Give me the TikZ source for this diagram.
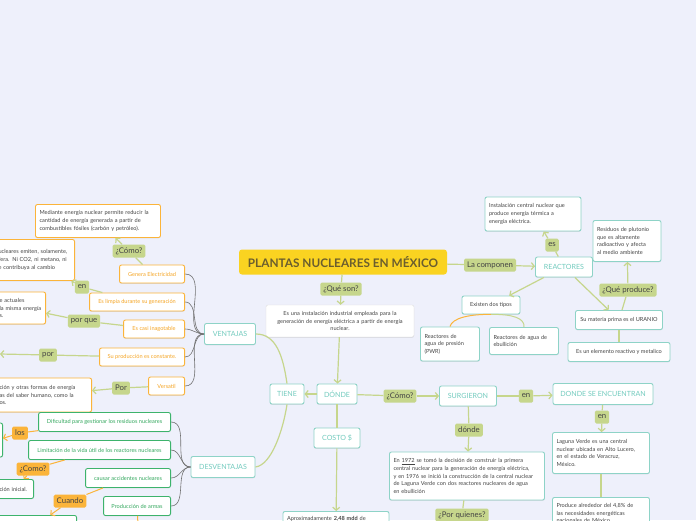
\documentclass[tikz,border=0pt]{standalone}
\usepackage{fontspec}
\setmainfont{Lato}
\usetikzlibrary{arrows.meta,shadows}

\definecolor{fondo}{HTML}{EEF0FB}
\definecolor{amarillo}{HTML}{FAD321}
\definecolor{marron}{HTML}{6B5E2E}
\definecolor{verdeclaro}{HTML}{C6D68C}
\definecolor{turquesa}{HTML}{8ED3C7}
\definecolor{turqtexto}{HTML}{72CBBE}
\definecolor{naranja}{HTML}{FBB43A}
\definecolor{naranjatexto}{HTML}{F5A524}
\definecolor{verde}{HTML}{3DB36C}
\definecolor{verdetexto}{HTML}{34A85E}
\definecolor{gris}{HTML}{707070}
\definecolor{texto}{HTML}{444444}

\tikzset{
	caja/.style={fill=white, rounded corners=2pt, line width=0.9pt, inner xsep=4pt, inner ysep=3pt,
		drop shadow={shadow xshift=0pt, shadow yshift=-0.8pt, opacity=0.2}},
	cabecera/.style={fill=amarillo, rounded corners=3pt, text=marron, minimum width=208, minimum height=25,
		font=\bfseries\fontsize{11.8}{13}\selectfont},
	tema/.style={caja, draw=turquesa, text=turqtexto, font=\fontsize{7.1}{8.5}\selectfont},
	nota/.style={caja, draw=turquesa, text=texto, align=left, font=\fontsize{5.6}{7.6}\selectfont},
	definicion/.style={caja, draw=gray!25, line width=0.4pt, text=texto, align=center, font=\fontsize{5.6}{7.6}\selectfont},
	notanar/.style={nota, draw=naranja},
	notaverde/.style={nota, draw=verde},
	pro/.style={caja, draw=naranja, text=naranjatexto, minimum height=18, font=\fontsize{5.6}{6.6}\selectfont},
	contra/.style={caja, draw=verde, text=verdetexto, minimum height=19, font=\fontsize{5.6}{6.6}\selectfont},
	etiqueta/.style={fill=verdeclaro, rounded corners=1.5pt, text=texto, inner xsep=3pt, inner ysep=1pt,
		minimum height=13, font=\fontsize{7.8}{9}\selectfont},
	etiquetanar/.style={etiqueta, fill=naranja},
	linea/.style={draw=verdeclaro, line width=1.2pt},
	flecha/.style={linea, -{Straight Barb[length=3pt,width=7pt]}},
	lineanar/.style={draw=naranja, line width=1pt},
	flechanar/.style={lineanar, -{Straight Barb[length=3pt,width=7pt]}},
	rama/.style={draw=gris, line width=0.6pt},
}

\begin{document}
\begin{tikzpicture}[x=1pt, y=-1pt]
	\useasboundingbox[fill=fondo] (0,0) rectangle (696,520);
	\clip (0,0) rectangle (696,520);

	\node[cabecera] (titulo) at (343,262) {PLANTAS NUCLEARES EN MÉXICO};
	\node[etiqueta] (queson) at (341,289) {¿Qué son?};
	\node[definicion, text width=140, minimum height=32] (definicion) at (340,321)
		{Es una instalación industrial empleada para la\\ generación de energía eléctrica a partir de energía\\ nuclear.};

	\node[tema, minimum width=40, minimum height=20] (donde) at (337,394) {DÓNDE};
	\node[tema, minimum width=34, minimum height=20] (tiene) at (287,394) {TIENE};
	\node[etiqueta] (como) at (400,396) {¿Cómo?};
	\node[tema, minimum width=57, minimum height=20] (surgieron) at (468,396) {SURGIERON};
	\node[etiqueta] (en) at (526,396) {en};
	\node[tema, minimum width=100, minimum height=21] (encuentran) at (603,394) {DONDE SE ENCUENTRAN};
	\node[etiqueta] (enb) at (602,417) {en};
	\node[nota, text width=89, minimum height=41] (laguna) at (601,453)
		{Laguna Verde es una central\\ nuclear ubicada en Alto Lucero,\\ en el estado de Veracruz,\\ México.};
	\node[nota, text width=89, inner ysep=6pt, anchor=north] (porcentaje) at (601,497)
		{Produce alrededor del 4,8\% de\\ las necesidades energéticas\\ nacionales de México.};
	\node[tema, minimum width=46, minimum height=20] (costo) at (337,438) {COSTO \$};
	\node[nota, text width=98, inner ysep=5pt, minimum height=30, anchor=north, text depth=20pt] (aprox) at (336,511)
		{Aproximadamente \textbf{\underline{2,48 mdd}} de};
	\node[etiqueta] (dondeb) at (469,430) {dónde};
	\node[nota, text width=147, minimum height=48] (anios) at (467,476)
		{En \underline{1972} se tomó la decisión de construir la primera\\ central nuclear para la generación de energía eléctrica,\\ y en 1976 se inició la construcción de la central nuclear\\ de Laguna Verde con dos reactores nucleares de agua\\ en ebullición};
	\node[etiqueta] (quienes) at (462,515) {¿Por quienes?};

	\node[etiqueta] (componen) at (490,265) {La componen};
	\node[tema, minimum width=57, minimum height=20] (reactores) at (564,267) {REACTORES};
	\node[etiqueta] (es) at (552,245) {es};
	\node[nota, text width=88, minimum height=34] (instalacion) at (533,214)
		{Instalación central nuclear que\\ produce energía térmica a\\ energía eléctrica.};
	\node[nota, minimum width=58, minimum height=18, align=center] (tipos) at (491,305) {Existen dos tipos};
	\node[nota, text width=51, minimum height=34] (pwr) at (450,344) {Reactores de\\ agua de presión\\ (PWR)};
	\node[nota, text width=61, minimum height=27] (ebullicion) at (524,341) {Reactores de agua de\\ ebullición};
	\node[nota, minimum width=87, minimum height=19, align=center] (materia) at (619,320) {Su materia prima es el URANIO};
	\node[etiqueta] (queproduce) at (628,290) {¿Qué produce?};
	\node[nota, text width=60, minimum height=41] (residuos) at (627,241)
		{Residuos de plutonio\\ que es altamente\\ radioactivo y afecta\\ al medio ambiente};
	\node[nota, minimum width=102, minimum height=19, align=center] (elemento) at (619,352) {Es un elemento reactivo y metalico};

	\node[tema, minimum width=51, minimum height=21] (ventajas) at (230,334) {VENTAJAS};
	\node[tema, minimum width=64, minimum height=21] (desventajas) at (223,467) {DESVENTAJAS};

	\node[pro, minimum width=65, anchor=east] (genera) at (185,274) {Genera Electricidad};
	\node[pro, minimum width=95, anchor=east] (limpia) at (185,302) {Es limpia durante su generación};
	\node[pro, minimum width=61, anchor=east] (inagotable) at (185,329) {Es casi inagotable};
	\node[pro, minimum width=85, anchor=east] (constante) at (185,357) {Su producción es constante.};
	\node[pro, minimum width=36, anchor=east] (versatil) at (185,386) {Versatil};

	\node[etiqueta] (comob) at (129,251) {¿Cómo?};
	\node[notanar, text width=117, minimum height=33] (mediante) at (98,221)
		{Mediante energía nuclear permite reducir la\\ cantidad de energía generada a partir de\\ combustibles fósiles (carbón y petróleo).};
	\node[etiqueta] (enc) at (82,287) {en};
	\node[notanar, text width=72, minimum height=41, anchor=east] (emisiones) at (75,260)
		{ucleares emiten, solamente,\\ fera. Ni CO2, ni metano, ni\\ e contribuya al cambio};
	\node[etiqueta] (porque) at (84,321) {por que};
	\node[notanar, text width=42, minimum height=32, anchor=east] (actuales) at (46,308)
		{e actuales\\ la misma energía\\ s.};
	\node[etiqueta] (por) at (48,355) {por};
	\coordinate (porfin) at (0,354);
	\node[etiqueta] (porb) at (121,388) {Por};
	\node[notanar, text width=88, minimum height=34, anchor=east] (saber) at (92,395)
		{ción y otras formas de energía\\ as del saber humano, como la\\ os.};

	\node[contra, minimum width=132, anchor=east] (residuosn) at (171,422) {Dificultad para gestionar los residuos nucleares};
	\node[contra, minimum width=142, anchor=east] (vidautil) at (171,450) {Limitación de la vida útil de los reactores nucleares};
	\node[contra, minimum width=85, anchor=east] (accidentes) at (171,478) {causar accidentes nucleares};
	\node[contra, minimum width=67, anchor=east] (armas) at (171,506) {Producción de armas};

	\node[etiquetanar] (los) at (20,433) {los};
	\node[notaverde, minimum width=10, minimum height=34, anchor=east] (loscaja) at (3,440) {};
	\node[etiquetanar] (comoc) at (33,469) {¿Como?};
	\node[notaverde, text width=30, minimum height=19, anchor=east] (inicial) at (34,489) {ción inicial.};
	\node[etiquetanar] (cuando) at (70,501) {Cuando};
	\node[notaverde, minimum width=82, minimum height=20, anchor=north east] (cuandocaja) at (77,515) {};
	\coordinate (armasfin) at (138,525);

	% centro
	\draw[linea] (titulo) -- (queson);
	\draw[flecha] (queson) -- (definicion);
	\draw[flecha] (definicion) -- (donde);
	\draw[flecha] (donde) -- (tiene);
	\draw[linea] (donde) -- (como);
	\draw[flecha] (como) -- (surgieron);
	\draw[linea] (surgieron) -- (en);
	\draw[flecha] (en) -- (encuentran);
	\draw[linea] (encuentran) -- (enb);
	\draw[flecha] (enb) -- (laguna);
	\draw[linea] (laguna) -- (porcentaje);
	\draw[linea] (donde) -- (costo);
	\draw[flecha] (costo) -- (aprox);
	\draw[linea] (surgieron) -- (dondeb);
	\draw[flecha] (dondeb) -- (anios);
	\draw[linea] (anios) -- (quienes);

	% reactores
	\draw[linea] (titulo) -- (componen);
	\draw[flecha] (componen) -- (reactores);
	\draw[linea] (reactores) -- (es);
	\draw[flecha] (es) -- (instalacion);
	\draw[flecha] (reactores) -- (tipos);
	\draw[flecha] (reactores) -- (materia);
	\draw[linea] (materia) -- (queproduce);
	\draw[flecha] (queproduce) -- (residuos);
	\draw[linea] (materia) -- (elemento);
	\draw[lineanar] (pwr.north) .. controls (452,318) and (470,314) .. (tipos.south);
	\draw[linea, line width=1pt] (tipos.south) .. controls (512,314) and (525,318) .. (ebullicion.north);

	% ventajas y desventajas
	\draw[linea] (ventajas.east) .. controls +(20,0) and +(-4,-28) .. (tiene.north);
	\draw[linea] (desventajas.east) .. controls +(16,-2) and +(-4,26) .. (tiene.south);
	\foreach \v in {genera,limpia,inagotable,constante,versatil}
		\draw[rama] (ventajas.west) to[out=180,in=0] (\v.east);
	\foreach \d in {residuosn,vidautil,accidentes,armas}
		\draw[rama] (desventajas.west) to[out=180,in=0] (\d.east);

	\draw[linea] (genera) -- (comob);
	\draw[flecha] (comob) -- (mediante);
	\draw[linea] (limpia) -- (enc);
	\draw[flecha] (enc) -- (emisiones);
	\draw[linea] (inagotable) -- (porque);
	\draw[flecha] (porque) -- (actuales);
	\draw[linea] (constante) -- (por);
	\draw[flecha] (por) -- (porfin);
	\draw[linea] (versatil) -- (porb);
	\draw[flecha] (porb) -- (saber);

	\draw[lineanar] (residuosn) -- (los);
	\draw[flechanar] (los) -- (loscaja);
	\draw[lineanar] (vidautil) -- (comoc);
	\draw[flechanar] (comoc) -- (inicial);
	\draw[lineanar] (accidentes) -- (cuando);
	\draw[flechanar] (cuando) -- (cuandocaja);
	\draw[lineanar] (armas) -- (armasfin);
\end{tikzpicture}
\end{document}
